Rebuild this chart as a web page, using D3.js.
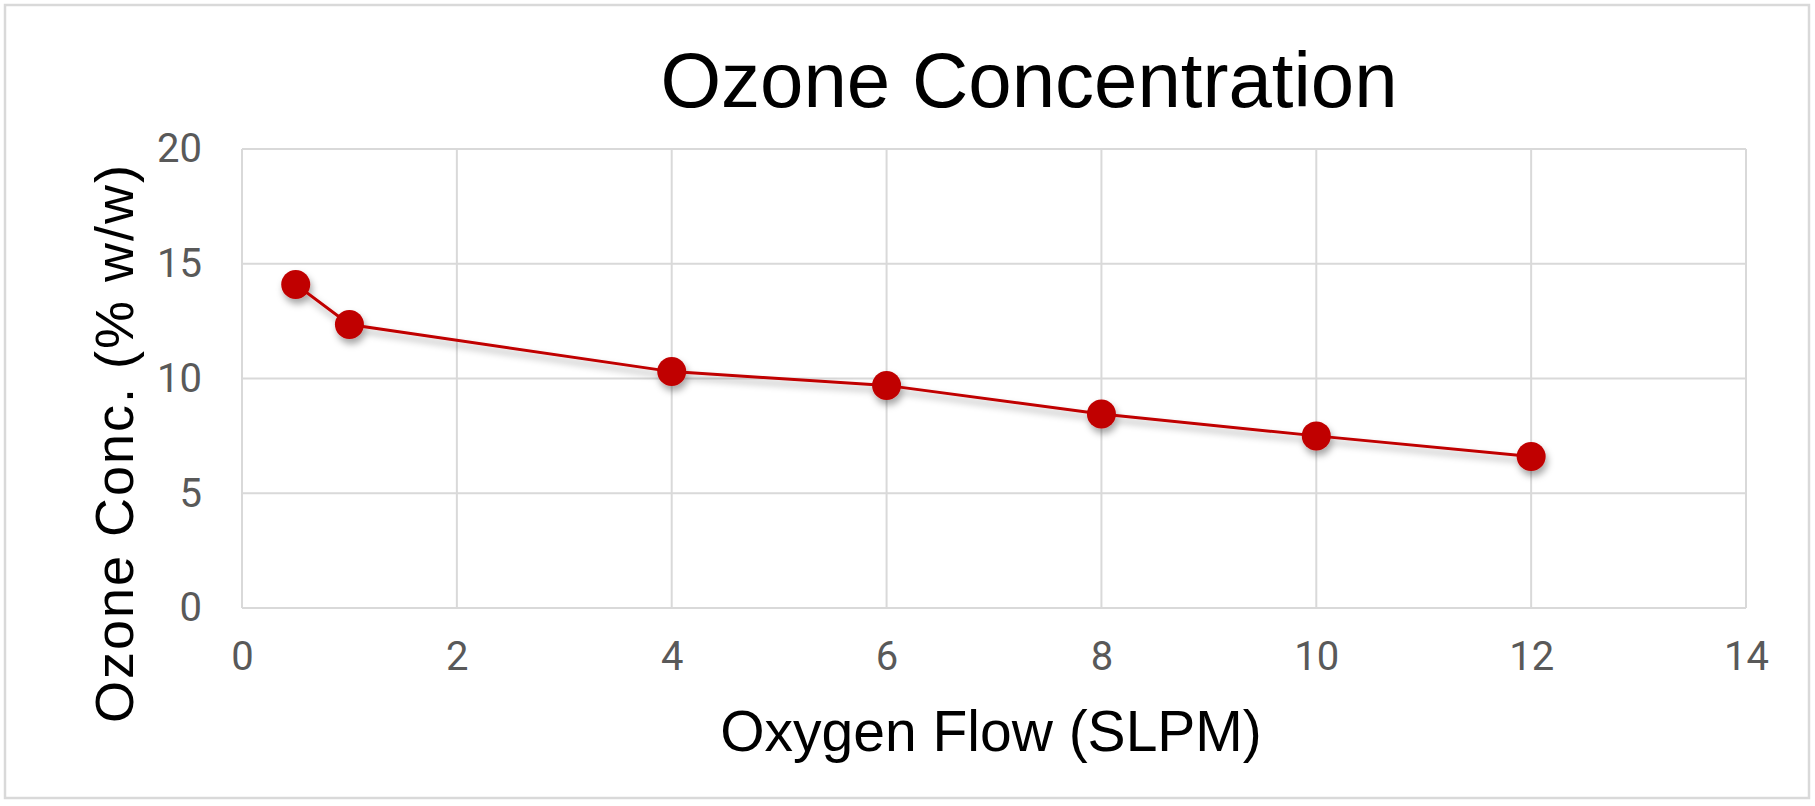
<!DOCTYPE html>
<html>
<head>
<meta charset="utf-8">
<script src="https://cdn.jsdelivr.net/npm/d3@7"></script>
<style>
  body { margin: 0; background: #fff; }
  svg { display: block; }
</style>
</head>
<body>
<div id="chart"><svg id="svg1" width="1815" height="806"></svg></div>
<script>
// data
var flowVals = [0.5, 1, 4, 6, 8, 10, 12];
var ozoneVals = [14.1, 12.35, 10.3, 9.7, 8.45, 7.5, 6.6];
var xTickVals = [0, 2, 4, 6, 8, 10, 12, 14];
var yTickVals = [0, 5, 10, 15, 20];

var TITLE = "Ozone Concentration";
var X_TITLE = "Oxygen Flow (SLPM)";
var Y_TITLE = "Ozone Conc. (% w/w)";

var GRID_COL = "#d9d9d9";
var TICK_COL = "#595959";
var LINE_COL = "#c00000";

function chart1() {
    var svg1 = d3.select("#svg1");
    var width = +svg1.attr("width");
    var height = +svg1.attr("height");

    var plotL = 242, plotR = 1746, plotT = 149, plotB = 608;

    var scaleX = d3.scaleLinear().domain([0, 14]).range([plotL, plotR]);
    var scaleY = d3.scaleLinear().domain([0, 20]).range([plotB, plotT]);

    // drop shadow for the series
    var defs = svg1.append("defs");
    var filt = defs.append("filter")
        .attr("id", "shadow")
        .attr("x", "-20%").attr("y", "-20%")
        .attr("width", "140%").attr("height", "160%");
    filt.append("feDropShadow")
        .attr("dx", 2).attr("dy", 5)
        .attr("stdDeviation", 3.5)
        .attr("flood-color", "#000")
        .attr("flood-opacity", 0.35);

    // outer chart border
    svg1.append("rect")
        .attr("x", 5).attr("y", 5)
        .attr("width", width - 11).attr("height", height - 13)
        .attr("fill", "#fff")
        .attr("stroke", GRID_COL)
        .attr("stroke-width", 2.5);

    // gridlines
    svg1.append("g")
        .selectAll("line.hgrid")
        .data(yTickVals)
        .enter()
        .append("line")
        .attr("x1", plotL).attr("x2", plotR)
        .attr("y1", d => scaleY(d)).attr("y2", d => scaleY(d))
        .attr("stroke", GRID_COL)
        .attr("stroke-width", 2);

    svg1.append("g")
        .selectAll("line.vgrid")
        .data(xTickVals)
        .enter()
        .append("line")
        .attr("x1", d => scaleX(d)).attr("x2", d => scaleX(d))
        .attr("y1", plotT).attr("y2", plotB)
        .attr("stroke", GRID_COL)
        .attr("stroke-width", 2);

    // axes (labels only)
    var xAxis = d3.axisBottom(scaleX).tickValues(xTickVals).tickSize(0).tickPadding(34);
    var yAxis = d3.axisLeft(scaleY).tickValues(yTickVals).tickSize(0).tickPadding(40);

    var gx = svg1.append("g")
        .attr("transform", "translate(0," + plotB + ")")
        .call(xAxis);
    gx.select(".domain").remove();
    gx.selectAll("text")
        .attr("dy", "0.71em")
        .style("font-family", "Roboto, sans-serif")
        .style("font-size", "40px")
        .style("fill", TICK_COL);

    var gy = svg1.append("g")
        .attr("transform", "translate(" + plotL + ",0)")
        .call(yAxis);
    gy.select(".domain").remove();
    gy.selectAll("text")
        .attr("dy", "0.32em")
        .style("font-family", "Roboto, sans-serif")
        .style("font-size", "40px")
        .style("fill", TICK_COL);

    // titles
    svg1.append("text")
        .attr("x", 1029).attr("y", 107)
        .attr("text-anchor", "middle")
        .style("font-family", "'Liberation Sans', Arial, sans-serif")
        .style("font-size", "78px")
        .style("fill", "#000")
        .text(TITLE);

    svg1.append("text")
        .attr("x", 991).attr("y", 751)
        .attr("text-anchor", "middle")
        .style("font-family", "'Liberation Sans', Arial, sans-serif")
        .style("font-size", "57px")
        .style("fill", "#000")
        .text(X_TITLE);

    svg1.append("text")
        .attr("transform", "translate(133,443) rotate(-90)")
        .attr("text-anchor", "middle")
        .style("font-family", "'Liberation Sans', Arial, sans-serif")
        .style("font-size", "54px")
        .style("letter-spacing", "2px")
        .style("fill", "#000")
        .text(Y_TITLE);

    // series
    var pts = flowVals.map((f, i) => ({ x: f, y: ozoneVals[i] }));
    var series = svg1.append("g").attr("filter", "url(#shadow)");

    var line = d3.line().x(d => scaleX(d.x)).y(d => scaleY(d.y));
    series.append("path")
        .datum(pts)
        .attr("d", line)
        .attr("fill", "none")
        .attr("stroke", LINE_COL)
        .attr("stroke-width", 3);

    series.selectAll("circle")
        .data(pts)
        .enter()
        .append("circle")
        .attr("cx", d => scaleX(d.x))
        .attr("cy", d => scaleY(d.y))
        .attr("r", 14.5)
        .attr("fill", LINE_COL);
}

chart1();
</script>
</body>
</html>
